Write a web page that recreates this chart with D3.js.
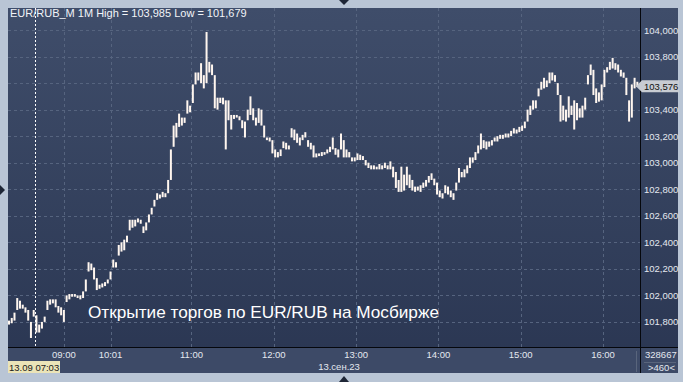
<!DOCTYPE html>
<html>
<head>
<meta charset="utf-8">
<script src="https://cdn.jsdelivr.net/npm/d3@7"></script>
<style>
  body { margin: 0; background: #b9c5d5; }
  svg { display: block; font-family: "Liberation Sans", Arial, sans-serif; }
</style>
</head>
<body>
<svg id="chart" width="683" height="382"></svg>
<script>
// chart values
const symbol = "EUR/RUB_M", timeframe = "1M";
const dayHigh = 103.985, dayLow = 101.679, lastPrice = 103.576;
const volumeText = "328667", barCount = 460;
const cursorBar = 19, cursorLabel = "13.09 07:03", dateLabel = "13.сен.23";
const caption = "Открытие торгов по EUR/RUB на Мосбирже";

const priceTicks = [101.8, 102.0, 102.2, 102.4, 102.6, 102.8, 103.0, 103.2, 103.4, 103.6, 103.8, 104.0];
const timeLabels = ["09:00", "10:01", "11:00", "12:00", "13:00", "14:00", "15:00", "16:00"];
const timeBars = [40, 74, 133, 193, 253, 313, 373, 433];   // bar index of each time label

// one entry per two 1-minute bars
const lows = [
  101.78,101.79,101.81,101.89,101.90,101.90,101.87,101.81,101.679,101.84,
  101.72,101.72,101.75,101.80,101.89,101.93,101.94,101.91,101.87,101.85,
  101.80,101.95,101.97,101.99,101.99,101.98,101.97,101.98,102.03,102.18,
  102.19,102.12,102.04,102.05,102.06,102.07,102.09,102.12,102.21,102.21,
  102.30,102.33,102.34,102.40,102.49,102.51,102.52,102.55,102.54,102.47,
  102.49,102.55,102.61,102.67,102.72,102.73,102.74,102.74,102.77,102.87,
  103.12,103.19,103.27,103.28,103.30,103.37,103.38,103.45,103.59,103.62,
  103.60,103.56,103.60,103.68,103.66,103.41,103.40,103.45,103.44,103.10,
  103.32,103.25,103.33,103.34,103.32,103.26,103.19,103.32,103.36,103.32,
  103.28,103.30,103.28,103.19,103.17,103.16,103.07,103.04,103.04,103.05,
  103.11,103.10,103.10,103.19,103.17,103.15,103.13,103.17,103.19,103.12,
  103.10,103.04,103.04,103.05,103.05,103.06,103.07,103.08,103.10,103.06,
  103.04,103.10,103.04,103.04,103.04,103.01,103.01,103.02,103.02,103.02,
  102.98,102.96,102.95,102.95,102.95,102.95,102.95,102.96,102.95,102.95,
  102.89,102.81,102.78,102.78,102.79,102.83,102.81,102.79,102.78,102.79,
  102.78,102.81,102.82,102.85,102.87,102.83,102.76,102.74,102.73,102.77,
  102.76,102.74,102.72,102.79,102.85,102.89,102.89,102.92,102.96,103.00,
  103.02,103.07,103.10,103.11,103.10,103.12,103.13,103.16,103.16,103.18,
  103.18,103.19,103.19,103.20,103.22,103.22,103.23,103.24,103.26,103.31,
  103.36,103.40,103.41,103.50,103.55,103.56,103.57,103.60,103.62,103.61,
  103.51,103.31,103.32,103.31,103.34,103.36,103.25,103.32,103.34,103.34,
  103.40,103.59,103.66,103.51,103.45,103.46,103.47,103.57,103.68,103.70,
  103.71,103.70,103.68,103.65,103.64,103.51,103.31,103.34,103.56,103.57
];
const highs = [
  101.81,101.83,101.87,101.98,101.96,101.93,101.91,101.89,101.80,101.89,
  101.85,101.78,101.80,101.84,101.96,101.97,101.97,101.97,101.92,101.91,
  101.89,102.00,102.01,102.01,102.01,102.00,102.00,102.03,102.12,102.25,
  102.24,102.21,102.13,102.08,102.09,102.10,102.12,102.18,102.27,102.25,
  102.38,102.40,102.42,102.45,102.57,102.57,102.57,102.58,102.57,102.52,
  102.55,102.61,102.66,102.72,102.77,102.76,102.78,102.77,102.87,103.10,
  103.28,103.30,103.37,103.34,103.34,103.47,103.43,103.59,103.68,103.68,
  103.75,103.66,103.985,103.76,103.74,103.66,103.49,103.49,103.49,103.47,
  103.47,103.36,103.36,103.36,103.35,103.32,103.31,103.40,103.50,103.41,
  103.34,103.41,103.40,103.28,103.19,103.19,103.17,103.10,103.08,103.10,
  103.16,103.15,103.13,103.26,103.25,103.22,103.19,103.21,103.23,103.17,
  103.15,103.13,103.07,103.07,103.08,103.08,103.10,103.12,103.19,103.11,
  103.10,103.22,103.17,103.10,103.08,103.04,103.04,103.07,103.06,103.05,
  103.02,103.00,102.98,102.98,102.97,102.99,102.98,103.00,102.98,103.01,
  102.97,102.93,102.87,102.97,102.91,102.97,102.91,102.87,102.82,102.82,
  102.83,102.85,102.87,102.90,102.92,102.88,102.85,102.79,102.77,102.83,
  102.82,102.79,102.77,102.85,102.96,102.93,102.95,102.98,103.04,103.04,
  103.08,103.13,103.22,103.17,103.16,103.16,103.17,103.19,103.20,103.21,
  103.21,103.22,103.22,103.24,103.26,103.25,103.27,103.28,103.31,103.40,
  103.43,103.47,103.47,103.56,103.61,103.64,103.62,103.68,103.68,103.66,
  103.60,103.51,103.43,103.40,103.50,103.43,103.47,103.45,103.41,103.43,
  103.49,103.66,103.74,103.70,103.56,103.53,103.59,103.70,103.72,103.76,
  103.79,103.75,103.74,103.70,103.68,103.64,103.47,103.59,103.64,103.61
];

const bars = lows.map((lo, i) => ({ bar: i * 2, low: lo, high: highs[i] }));

// layout
const W = 683, H = 382;
const panel = { left: 8, top: 8, right: 678, bottom: 373 };
const plot = { left: 8, top: 8, right: 640, bottom: 347 };

const ru = d3.formatLocale({ decimal: ",", thousands: " ", grouping: [3], currency: ["", ""] });
const fmt = ru.format(".3f");

const svg = d3.select("#chart");

const x = d3.scaleLinear().domain([0, barCount - 1]).range([9, 638.7]);
const y = d3.scaleLinear().domain([101.611, 104.166]).range([plot.bottom, plot.top]);

// background
const defs = svg.append("defs");
const grad = defs.append("linearGradient").attr("id", "bg").attr("x1", 0).attr("y1", 0).attr("x2", 0).attr("y2", 1);
grad.append("stop").attr("offset", "0%").attr("stop-color", "#3f4d6a");
grad.append("stop").attr("offset", "100%").attr("stop-color", "#2a3652");

svg.append("rect").attr("width", W).attr("height", H).attr("fill", "#b9c5d5");
svg.append("rect")
  .attr("x", panel.left).attr("y", panel.top)
  .attr("width", panel.right - panel.left).attr("height", panel.bottom - panel.top)
  .attr("fill", "url(#bg)");
svg.append("rect")
  .attr("x", panel.left).attr("y", plot.bottom)
  .attr("width", panel.right - panel.left).attr("height", panel.bottom - plot.bottom)
  .attr("fill", "#3d4a67");

// small frame arrows
svg.append("path").attr("d", "M339,0 L349,0 L344,5 Z").attr("fill", "#1e2636");
svg.append("path").attr("d", "M0,185 L0,195 L5,190 Z").attr("fill", "#1e2636");
svg.append("path").attr("d", "M339,382 L349,382 L344,376 Z").attr("fill", "#1e2636");

// grid
const grid = svg.append("g").attr("stroke", "#56647f").attr("stroke-dasharray", "3,3").attr("stroke-width", 1);
grid.selectAll("line.h").data(priceTicks).join("line")
  .attr("class", "h")
  .attr("x1", plot.left).attr("x2", plot.right)
  .attr("y1", d => Math.round(y(d)) + 0.5).attr("y2", d => Math.round(y(d)) + 0.5);
grid.selectAll("line.v").data(timeBars).join("line")
  .attr("class", "v")
  .attr("x1", d => Math.round(x(d)) + 0.5).attr("x2", d => Math.round(x(d)) + 0.5)
  .attr("y1", plot.top).attr("y2", plot.bottom);

// bars
svg.append("g").selectAll("rect").data(bars).join("rect")
  .attr("x", d => x(d.bar) - 1)
  .attr("width", 2)
  .attr("y", d => y(d.high))
  .attr("height", d => Math.max(1.5, y(d.low) - y(d.high)))
  .attr("fill", "#fff6ef");

// crosshair
svg.append("line")
  .attr("x1", Math.round(x(cursorBar)) + 0.5).attr("x2", Math.round(x(cursorBar)) + 0.5)
  .attr("y1", plot.top).attr("y2", plot.bottom)
  .attr("stroke", "#ffffff").attr("stroke-dasharray", "2,2");

// separators
svg.append("line").attr("x1", plot.right + 0.5).attr("x2", plot.right + 0.5)
  .attr("y1", panel.top).attr("y2", panel.bottom).attr("stroke", "#05070c");
svg.append("line").attr("x1", panel.left).attr("x2", panel.right)
  .attr("y1", plot.bottom + 0.5).attr("y2", plot.bottom + 0.5).attr("stroke", "#05070c");
svg.append("line").attr("x1", 636.5).attr("x2", 636.5)
  .attr("y1", plot.bottom + 4).attr("y2", panel.bottom - 1).attr("stroke", "#59657c");
svg.append("line").attr("x1", plot.right + 4).attr("x2", panel.right - 2)
  .attr("y1", 362.5).attr("y2", 362.5).attr("stroke", "#59657c");

// y axis labels (the one hidden under the last-price marker is not drawn)
const ly = y(lastPrice);
svg.append("g").selectAll("text")
  .data(priceTicks.filter(d => Math.abs(y(d) - ly) > 9))
  .join("text")
  .attr("x", 644).attr("y", d => y(d) + 3.5)
  .attr("font-size", 9.5).attr("fill", "#e4e8ef")
  .text(d => fmt(d));

// last price marker
svg.append("path")
  .attr("d", `M636,${ly} L642,${ly - 6} L679,${ly - 6} L679,${ly + 6} L642,${ly + 6} Z`)
  .attr("fill", "#c8ccd3");
svg.append("text").attr("x", 644).attr("y", ly + 3.5)
  .attr("font-size", 9.5).attr("fill", "#111").text(fmt(lastPrice));

// x axis labels
svg.append("g").selectAll("text").data(timeBars).join("text")
  .attr("x", d => x(d)).attr("y", 358)
  .attr("text-anchor", "middle").attr("font-size", 9.5).attr("fill", "#e4e8ef")
  .text((d, i) => timeLabels[i]);
svg.append("text").attr("x", 339).attr("y", 370)
  .attr("text-anchor", "middle").attr("font-size", 9.5).attr("fill", "#e4e8ef")
  .text(dateLabel);

// cursor time box
svg.append("rect").attr("x", 8).attr("y", 361).attr("width", 52).attr("height", 12).attr("fill", "#ebe4b8");
svg.append("text").attr("x", 9).attr("y", 370.5).attr("font-size", 9.5).attr("fill", "#1a1a1a").text(cursorLabel);

// volume / bar count
svg.append("text").attr("x", 645).attr("y", 358).attr("font-size", 9.5).attr("fill", "#e4e8ef").text(volumeText);
svg.append("text").attr("x", 648).attr("y", 371).attr("font-size", 9.5).attr("fill", "#e4e8ef").text(">" + barCount + "<");

// title
svg.append("text").attr("x", 10).attr("y", 17)
  .attr("font-size", 11).attr("fill", "#f2f4f8")
  .text(`${symbol} ${timeframe} High = ${fmt(dayHigh)} Low = ${fmt(dayLow)}`);

// caption
svg.append("text").attr("x", 88).attr("y", 318)
  .attr("font-size", 17.2).attr("fill", "#ffffff")
  .text(caption);
</script>
</body>
</html>
